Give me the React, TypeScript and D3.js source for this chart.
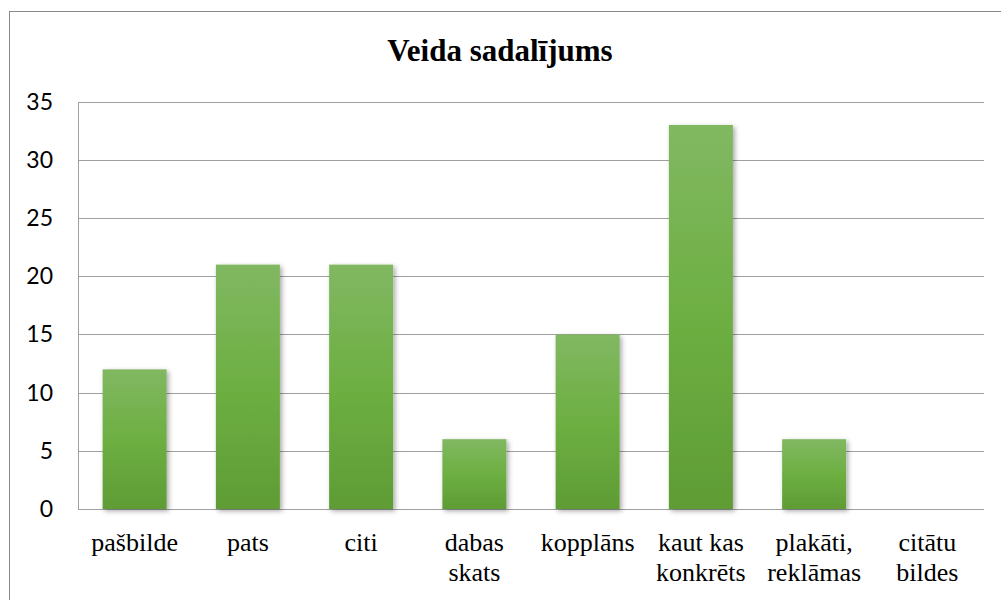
import React from "react";
import * as d3 from "d3";

const categories: string[][] = [
  ["pašbilde"],
  ["pats"],
  ["citi"],
  ["dabas", "skats"],
  ["kopplāns"],
  ["kaut kas", "konkrēts"],
  ["plakāti,", "reklāmas"],
  ["citātu", "bildes"],
];
const values: number[] = [12, 21, 21, 6, 15, 33, 6, 0];
const yTicks: number[] = [0, 5, 10, 15, 20, 25, 30, 35];
const title = "Veida sadalījums";

export default function App() {
  const W = 1001;
  const H = 600;
  const left = 78;
  const right = 984;
  const top = 101.7;
  const bottom = 509;

  const x = d3
    .scaleBand<number>()
    .domain(values.map((_, i) => i))
    .range([left, right])
    .paddingInner(0.435)
    .paddingOuter(0.2175);
  const y = d3.scaleLinear().domain([0, 35]).range([bottom, top]);

  const serif = "'Liberation Serif', 'Times New Roman', serif";

  return (
    <svg
      width={W}
      height={H}
      style={{ position: "absolute", left: 0, top: 0, background: "#fff" }}
    >
      <defs>
        <linearGradient id="barGrad" x1="0" y1="0" x2="0" y2="1">
          <stop offset="0%" stopColor="#81b862" />
          <stop offset="50%" stopColor="#6daf42" />
          <stop offset="100%" stopColor="#5f9c35" />
        </linearGradient>
        <filter id="shadow" x="-20%" y="-10%" width="150%" height="130%">
          <feDropShadow dx="2" dy="2" stdDeviation="2.5" floodColor="#000" floodOpacity="0.35" />
        </filter>
      </defs>
      <rect x={9.5} y={11.5} width={1000} height={600} fill="#fff" stroke="#8a8a8a" strokeWidth={1} />
      <text
        x={500}
        y={61}
        textAnchor="middle"
        fontFamily={serif}
        fontWeight="bold"
        fontSize={31}
        fill="#000"
      >
        {title}
      </text>
      {yTicks.map((t) => (
        <g key={t}>
          <line
            x1={left}
            x2={right}
            y1={Math.round(y(t)) + 0.5}
            y2={Math.round(y(t)) + 0.5}
            stroke="#a0a0a0"
            strokeWidth={1}
          />
          <text
            x={53}
            y={y(t)}
            dy="0.35em"
            textAnchor="end"
            fontFamily="Lato, 'Open Sans', sans-serif"
            fontSize={23}
            fill="#000"
          >
            {t}
          </text>
        </g>
      ))}
      <line
        x1={left + 0.5}
        x2={left + 0.5}
        y1={Math.round(y(35)) + 0.5}
        y2={Math.round(y(0)) + 0.5}
        stroke="#a0a0a0"
        strokeWidth={1}
      />
      {values.map((v, i) =>
        v > 0 ? (
          <rect
            key={i}
            x={x(i)!}
            y={y(v)}
            width={x.bandwidth()}
            height={y(0) - y(v)}
            fill="url(#barGrad)"
            filter="url(#shadow)"
          />
        ) : null
      )}
      {categories.map((lines, i) => (
        <text
          key={i}
          x={x(i)! + x.bandwidth() / 2}
          y={551}
          textAnchor="middle"
          fontFamily={serif}
          fontSize={26}
          fill="#000"
        >
          {lines.map((l, j) => (
            <tspan key={j} x={x(i)! + x.bandwidth() / 2} dy={j === 0 ? 0 : 30}>
              {l}
            </tspan>
          ))}
        </text>
      ))}
    </svg>
  );
}
